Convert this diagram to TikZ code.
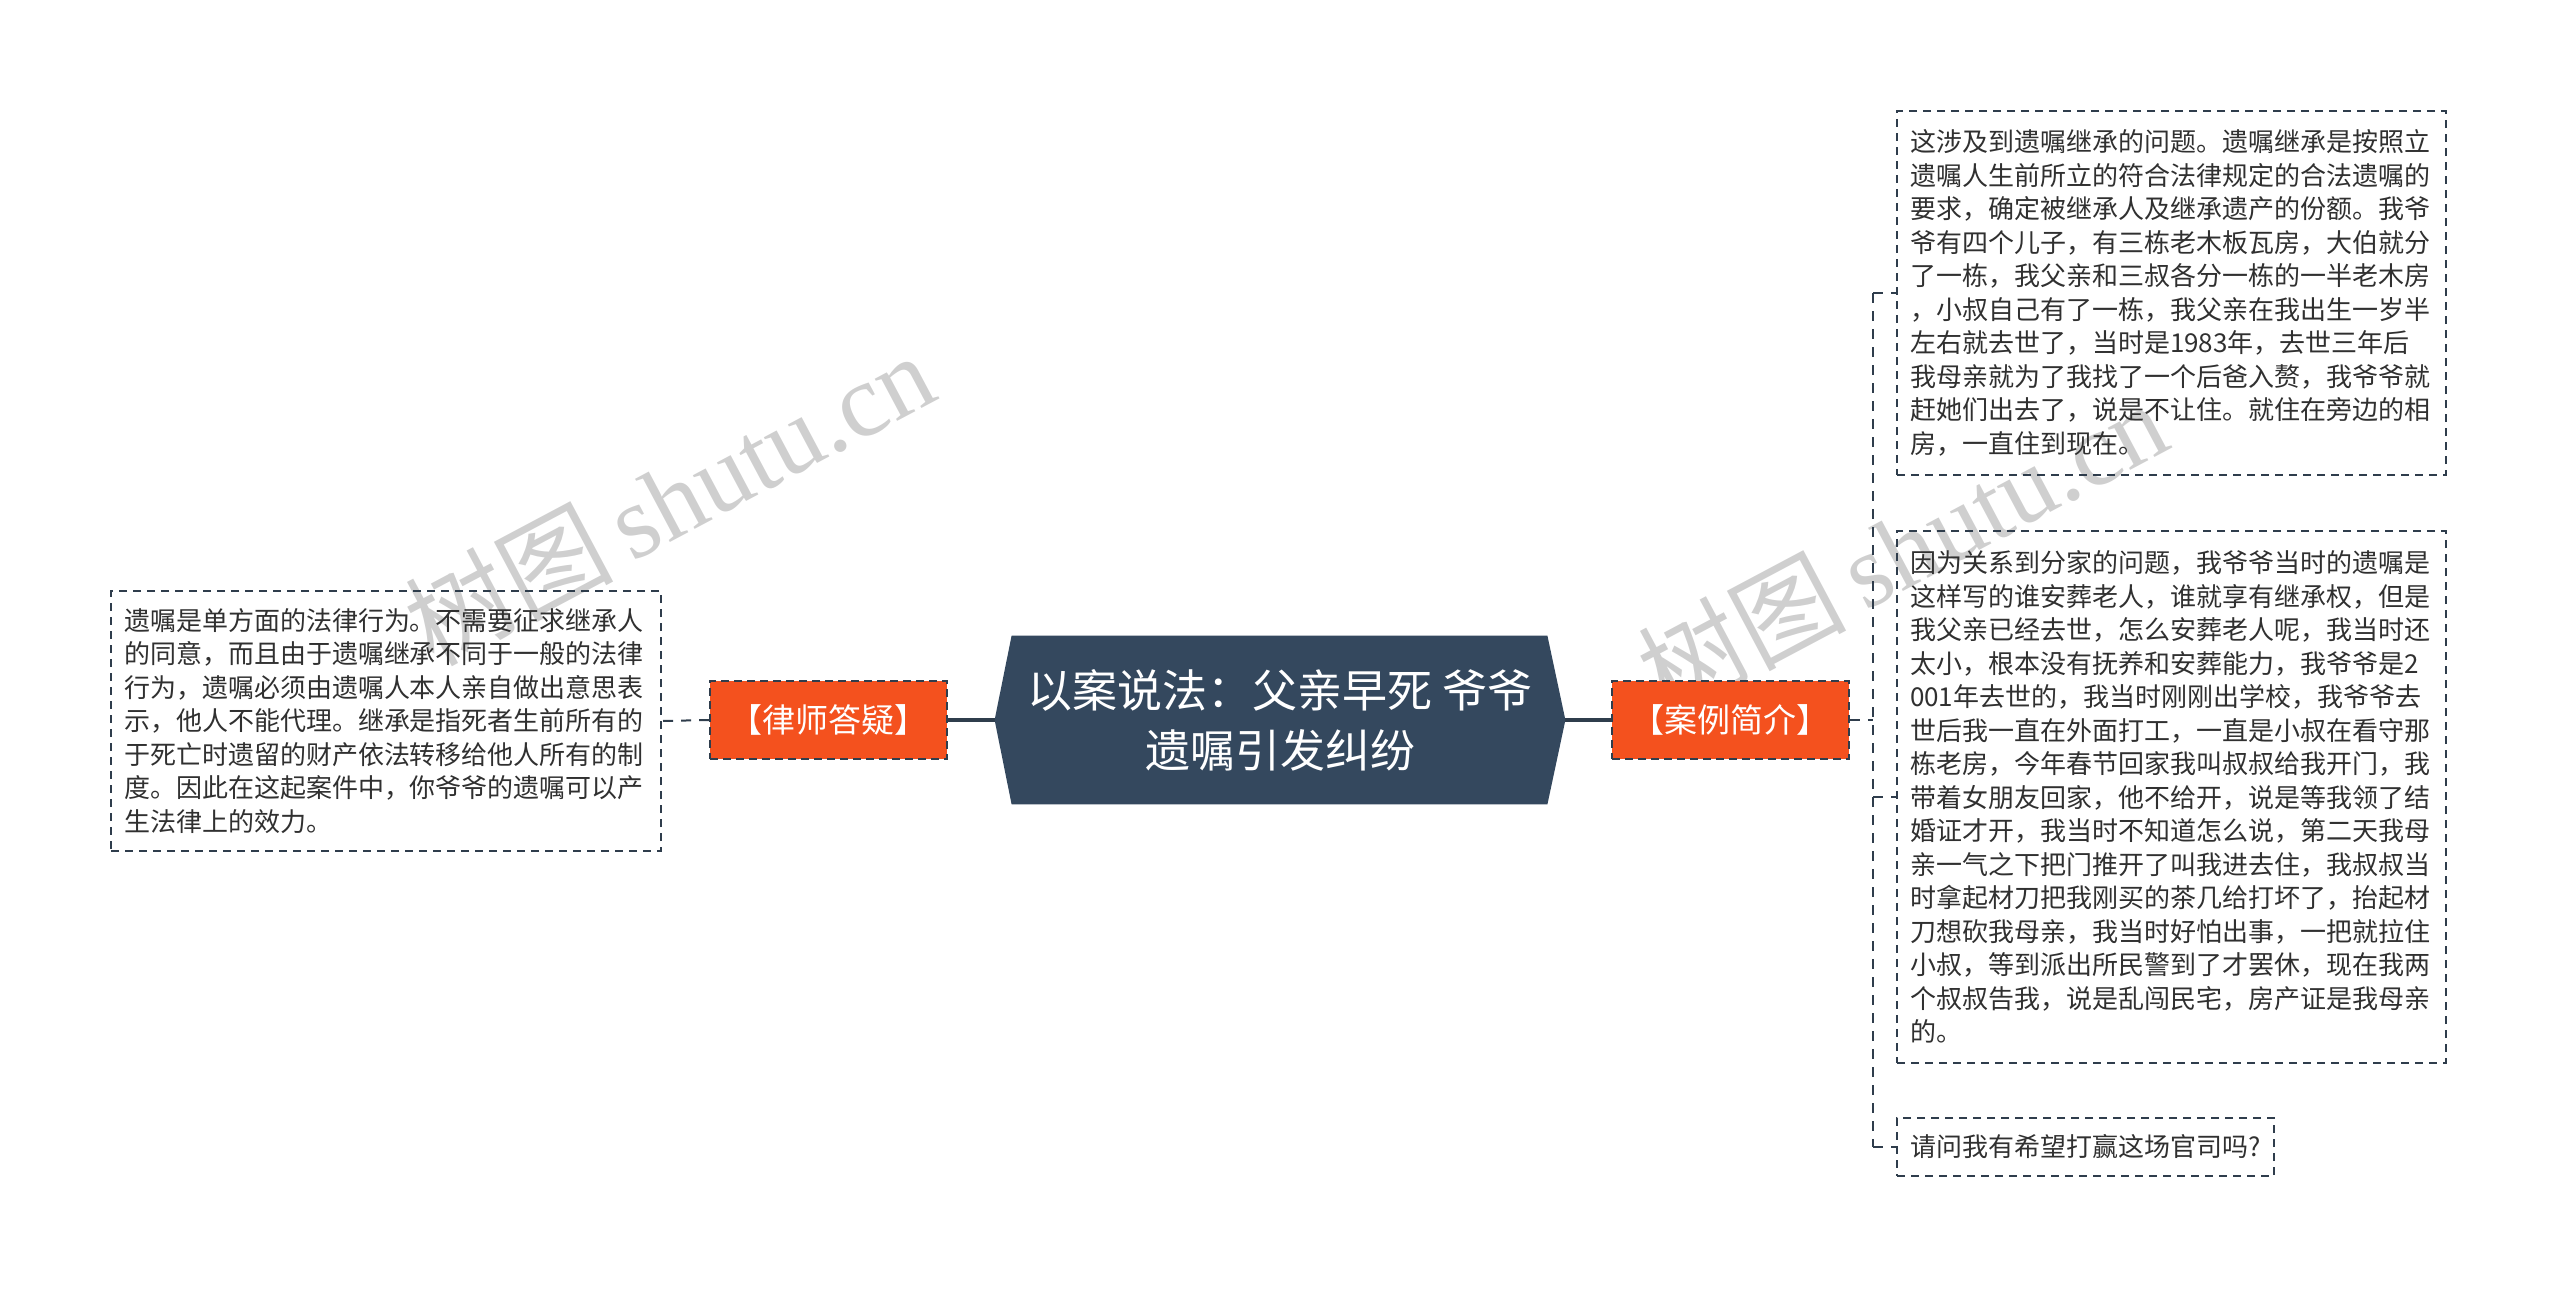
\documentclass[tikz,border=0pt]{standalone}
\usepackage{fontspec}
\setmainfont{Noto Sans CJK SC}
\newfontfamily\wmserif{Liberation Serif}
\usetikzlibrary{backgrounds}
\definecolor{hexcol}{HTML}{34485E}
\definecolor{orangecol}{HTML}{F4511E}
\definecolor{linecol}{HTML}{2F3D4C}
\definecolor{txtcol}{HTML}{303030}
\tikzset{
  tbox/.style={draw=linecol, line width=0.8pt, dash pattern=on 4pt off 3pt,
    text=txtcol, align=left, inner xsep=6.5pt, inner ysep=4pt,
    font={\fontsize{13pt}{16.75pt}\selectfont}},
  obox/.style={fill=orangecol, draw=linecol, line width=0.9pt, dash pattern=on 4pt off 2.5pt,
    text=white, minimum width=118.5pt, minimum height=39pt, inner sep=0pt,
    font={\fontsize{16.5pt}{20pt}\selectfont}},
  solidconn/.style={draw=linecol, line width=1.6pt},
  dashconn/.style={draw=linecol, line width=1pt, dash pattern=on 5pt off 4pt},
  wmark/.style={text=black!22, opacity=0.85, font={\fontsize{52pt}{56pt}\selectfont}, inner sep=0pt}
}
\begin{document}
\begin{tikzpicture}[x=1pt,y=-1pt]
\useasboundingbox (0,0) rectangle (1280,645.5);
% watermarks
\node[wmark, rotate=28] (wm1) at (334.5,249) {树图\,{\wmserif shutu.cn}};
\node[wmark, rotate=28] (wm2) at (951,273.5) {树图\,{\wmserif shutu.cn}};
% central node
\node[text=white, align=center, minimum width=285pt, minimum height=84pt, inner sep=0pt,
      font={\fontsize{22.5pt}{30pt}\selectfont}] (root) at (640,360)
      {以案说法：父亲早死 爷爷\\遗嘱引发纠纷};
\begin{scope}[on background layer]
\fill[hexcol] (root.west) -- ([xshift=8.5pt]root.north west) -- ([xshift=-9pt]root.north east)
   -- (root.east) -- ([xshift=-9pt]root.south east) -- ([xshift=8.5pt]root.south west) -- cycle;
\end{scope}
% orange nodes
\node[obox] (lawyer) at (414.25,360) {【律师答疑】};
\node[obox] (case) at (865.25,360) {【案例简介】};
% text boxes
\node[tbox, text width=262pt, minimum height=130pt] (lbox) at (193,360.5)
{遗嘱是单方面的法律行为。不需要征求继承人\\
的同意，而且由于遗嘱继承不同于一般的法律\\
行为，遗嘱必须由遗嘱人本人亲自做出意思表\\
示，他人不能代理。继承是指死者生前所有的\\
于死亡时遗留的财产依法转移给他人所有的制\\
度。因此在这起案件中，你爷爷的遗嘱可以产\\
生法律上的效力。};
\node[tbox, text width=261.5pt, minimum height=182pt] (box1) at (1085.75,146.5)
{这涉及到遗嘱继承的问题。遗嘱继承是按照立\\
遗嘱人生前所立的符合法律规定的合法遗嘱的\\
要求，确定被继承人及继承遗产的份额。我爷\\
爷有四个儿子，有三栋老木板瓦房，大伯就分\\
了一栋，我父亲和三叔各分一栋的一半老木房\\
，小叔自己有了一栋，我父亲在我出生一岁半\\
左右就去世了，当时是1983年，去世三年后\\
我母亲就为了我找了一个后爸入赘，我爷爷就\\
赶她们出去了，说是不让住。就住在旁边的相\\
房，一直住到现在。};
\node[tbox, text width=261.5pt, minimum height=266pt] (box2) at (1085.75,398.5)
{因为关系到分家的问题，我爷爷当时的遗嘱是\\
这样写的谁安葬老人，谁就享有继承权，但是\\
我父亲已经去世，怎么安葬老人呢，我当时还\\
太小，根本没有抚养和安葬能力，我爷爷是2\\
001年去世的，我当时刚刚出学校，我爷爷去\\
世后我一直在外面打工，一直是小叔在看守那\\
栋老房，今年春节回家我叫叔叔给我开门，我\\
带着女朋友回家，他不给开，说是等我领了结\\
婚证才开，我当时不知道怎么说，第二天我母\\
亲一气之下把门推开了叫我进去住，我叔叔当\\
时拿起材刀把我刚买的茶几给打坏了，抬起材\\
刀想砍我母亲，我当时好怕出事，一把就拉住\\
小叔，等到派出所民警到了才罢休，现在我两\\
个叔叔告我，说是乱闯民宅，房产证是我母亲\\
的。};
\node[tbox, minimum width=188.5pt, minimum height=29pt] (box3) at (1042.75,573.5)
{请问我有希望打赢这场官司吗?};
% connectors
\draw[solidconn] (root.west) -- (lawyer.east);
\draw[solidconn] (root.east) -- (case.west);
\draw[dashconn] (lawyer.west) -- (lbox.east);
\coordinate (jr) at (936.5,360);
\draw[dashconn] (case.east) -- (jr);
\draw[dashconn] (jr |- box1.west) -- (jr |- box3.west);
\draw[dashconn] (jr |- box1.west) -- (box1.west);
\draw[dashconn] (jr |- box2.west) -- (box2.west);
\draw[dashconn] (jr |- box3.west) -- (box3.west);
\end{tikzpicture}
\end{document}
